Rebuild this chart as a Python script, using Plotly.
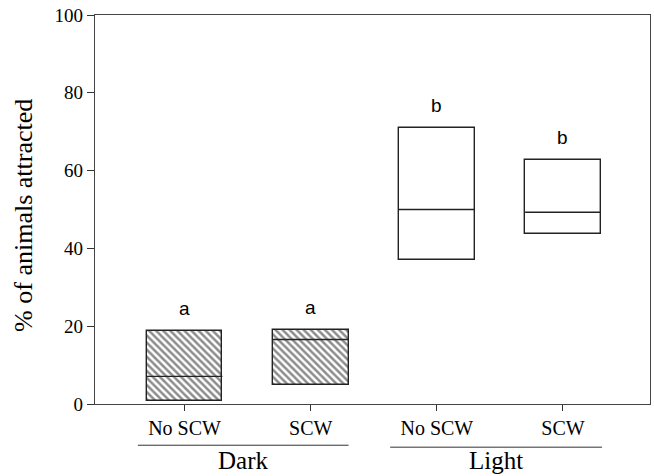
import plotly.graph_objects as go

# Box summaries (% of animals attracted) per condition
conditions = ["No SCW", "SCW", "No SCW", "SCW"]
groups = ["Dark", "Dark", "Light", "Light"]
q1 = [0.7, 5.0, 37.0, 43.7]
median = [7.1, 16.6, 50.0, 49.3]
q3 = [18.7, 18.9, 70.9, 62.8]
letters = ["a", "a", "b", "b"]

xpos = list(range(len(conditions)))
box_w = 0.6
serif = "Liberation Serif"
sans = "Liberation Sans"

fig = go.Figure()

for grp, shade in (("Dark", True), ("Light", False)):
    idx = [i for i, g in enumerate(groups) if g == grp]
    marker = dict(color="white", line=dict(color="#222", width=1.4))
    if shade:
        marker["pattern"] = dict(shape="\\", size=5, solidity=0.5,
                                 fgcolor="#1a1a1a", bgcolor="white")
    fig.add_trace(go.Bar(
        x=[xpos[i] for i in idx],
        base=[q1[i] for i in idx],
        y=[q3[i] - q1[i] for i in idx],
        width=box_w,
        marker=marker,
        showlegend=False,
        hoverinfo="skip",
    ))

# median lines
mx, my = [], []
for i in xpos:
    mx += [i - box_w / 2, i + box_w / 2, None]
    my += [median[i], median[i], None]
fig.add_trace(go.Scatter(x=mx, y=my, mode="lines",
                         line=dict(color="#222", width=1.4),
                         showlegend=False, hoverinfo="skip"))

# significance letters
for i in xpos:
    fig.add_annotation(x=i, y=q3[i], text=letters[i], showarrow=False,
                       yanchor="bottom", yshift=10,
                       font=dict(family=sans, size=19, color="black"))

# group brackets under the category labels
for grp, (x0, x1), yl in (("Dark", (-0.37, 1.3), -0.106), ("Light", (1.63, 3.31), -0.111)):
    fig.add_shape(type="line", xref="x", yref="paper", x0=x0, x1=x1, y0=yl, y1=yl,
                  line=dict(color="#333", width=1))
    fig.add_annotation(xref="x", yref="paper", x=(x0 + x1) / 2, y=-0.184,
                       text=grp, showarrow=False, yanchor="bottom",
                       font=dict(family=serif, size=25, color="black"))

fig.add_annotation(xref="paper", yref="paper", x=-0.128, y=0.486,
                   text="% of animals attracted", textangle=-90, showarrow=False,
                   xanchor="center", yanchor="middle",
                   font=dict(family=serif, size=26, color="black"))

fig.update_layout(
    width=654, height=476,
    margin=dict(l=95, r=4, t=15, b=72),
    plot_bgcolor="white", paper_bgcolor="white",
    bargap=0,
    xaxis=dict(range=[-0.71, 3.69], tickmode="array", tickvals=xpos,
               ticktext=conditions, ticks="outside", ticklen=6,
               tickcolor="#333", showline=True, linecolor="#444", linewidth=1.3,
               mirror=True, showgrid=False, zeroline=False,
               tickfont=dict(family=serif, size=20, color="black")),
    yaxis=dict(range=[0, 100], tickvals=[0, 20, 40, 60, 80, 100],
               ticks="outside", ticklen=7, tickcolor="#333",
               showline=True, linecolor="#444", linewidth=1.3, mirror=True,
               showgrid=False, zeroline=False,
               tickfont=dict(family=serif, size=19, color="black")),
)

fig.write_html("out.html")
